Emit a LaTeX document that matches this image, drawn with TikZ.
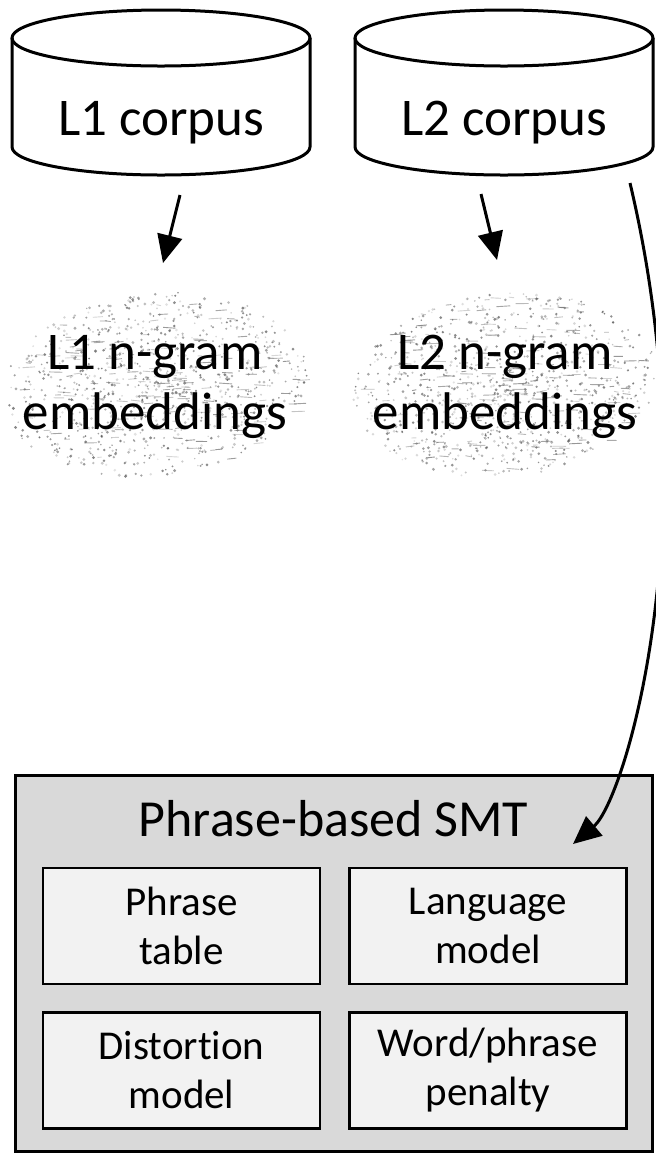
\documentclass[tikz,border=0pt]{standalone}
\usepackage{fontspec}
\setmainfont{Carlito}[Ligatures=NoCommon]
\usetikzlibrary{arrows.meta}
\definecolor{smtgray}{HTML}{D9D9D9}
\definecolor{partgray}{HTML}{F2F2F2}
\begin{document}
\begin{tikzpicture}[x=0.5pt,y=-0.5pt,line width=1.5pt,
  arr/.style={-{Triangle[length=14pt,width=12.5pt]}},
  bigtxt/.style={font=\fontsize{26.5}{30}\selectfont,align=center,inner sep=0pt},
  part/.style={draw,fill=partgray,line width=1.3pt,minimum width=138.5pt,minimum height=58pt,
    inner sep=0pt,align=center,font=\fontsize{20.5}{24.5}\selectfont},
  speck/.style={fill=black!70},
  speckline/.style={draw=black!60,line width=0.45pt}]
\useasboundingbox (0,0) rectangle (656,1153);

% corpora
\draw (12,38) -- (12,147) arc[start angle=180,end angle=0,x radius=149,y radius=28] -- (310,38);
\draw (161,38) ellipse[x radius=149,y radius=28];
\draw (355,38) -- (355,147) arc[start angle=180,end angle=0,x radius=149,y radius=28] -- (653,38);
\draw (504,38) ellipse[x radius=149,y radius=28];
\node[bigtxt,anchor=base] (corpus1) at (161,135) {L1 corpus};
\node[bigtxt,anchor=base] (corpus2) at (504,135) {L2 corpus};

% embedding point clouds
\pgfmathsetseed{11}
\foreach \cx in {155,505}{
  \foreach \i in {1,...,900}{
    \pgfmathsetmacro\ang{360*rnd}
    \pgfmathsetmacro\rad{rnd^0.6}
    \pgfmathsetmacro\op{0.15+0.55*rnd}
    \fill[speck,opacity=\op] ({\cx+152*\rad*cos(\ang)},{385+92*\rad*sin(\ang)-10*\rad*cos(\ang)}) circle[radius={0.8+0.8*rnd}];
  }
  \foreach \i in {1,...,160}{
    \pgfmathsetmacro\ang{360*rnd}
    \pgfmathsetmacro\rad{rnd^0.7}
    \pgfmathsetmacro\op{0.25+0.45*rnd}
    \draw[speckline,opacity=\op] ({\cx+145*\rad*cos(\ang)},{385+88*\rad*sin(\ang)}) -- ++({4+10*rnd},{2*rnd-1});
  }
}
\node[bigtxt] (emb1) at (155,387) {L1 n-gram\\embeddings};
\node[bigtxt] (emb2) at (505,387) {L2 n-gram\\embeddings};

\coordinate (c1out) at (180,195);
\coordinate (e1in) at (163,263);
\coordinate (c2out) at (481,194);
\coordinate (e2in) at (497,260);
\draw[arr] (c1out) -- (e1in);
\draw[arr] (c2out) -- (e2in);

% decoder and its models
\node[draw,fill=smtgray,minimum width=318.5pt,minimum height=188pt,inner sep=0pt] (smt) at (333.5,963) {};
\node[font=\fontsize{26}{30}\selectfont,anchor=base] (smttitle) at (333.5,836) {Phrase-based SMT};
\node[part] (ptable) at (181.5,926) {Phrase\\table};
\node[part] (lm) at (488,926) {Language\\model};
\node[part] (dist) at (181.5,1070.5) {Distortion\\model};
\node[part] (penalty) at (488,1070.5) {Word/phrase\\penalty};

\coordinate (lmsrc) at (630,183);
\coordinate (lmdst) at (573,844);
\draw[arr] (lmsrc) .. controls (710,520) and (625,800) .. (lmdst);
\end{tikzpicture}
\end{document}
